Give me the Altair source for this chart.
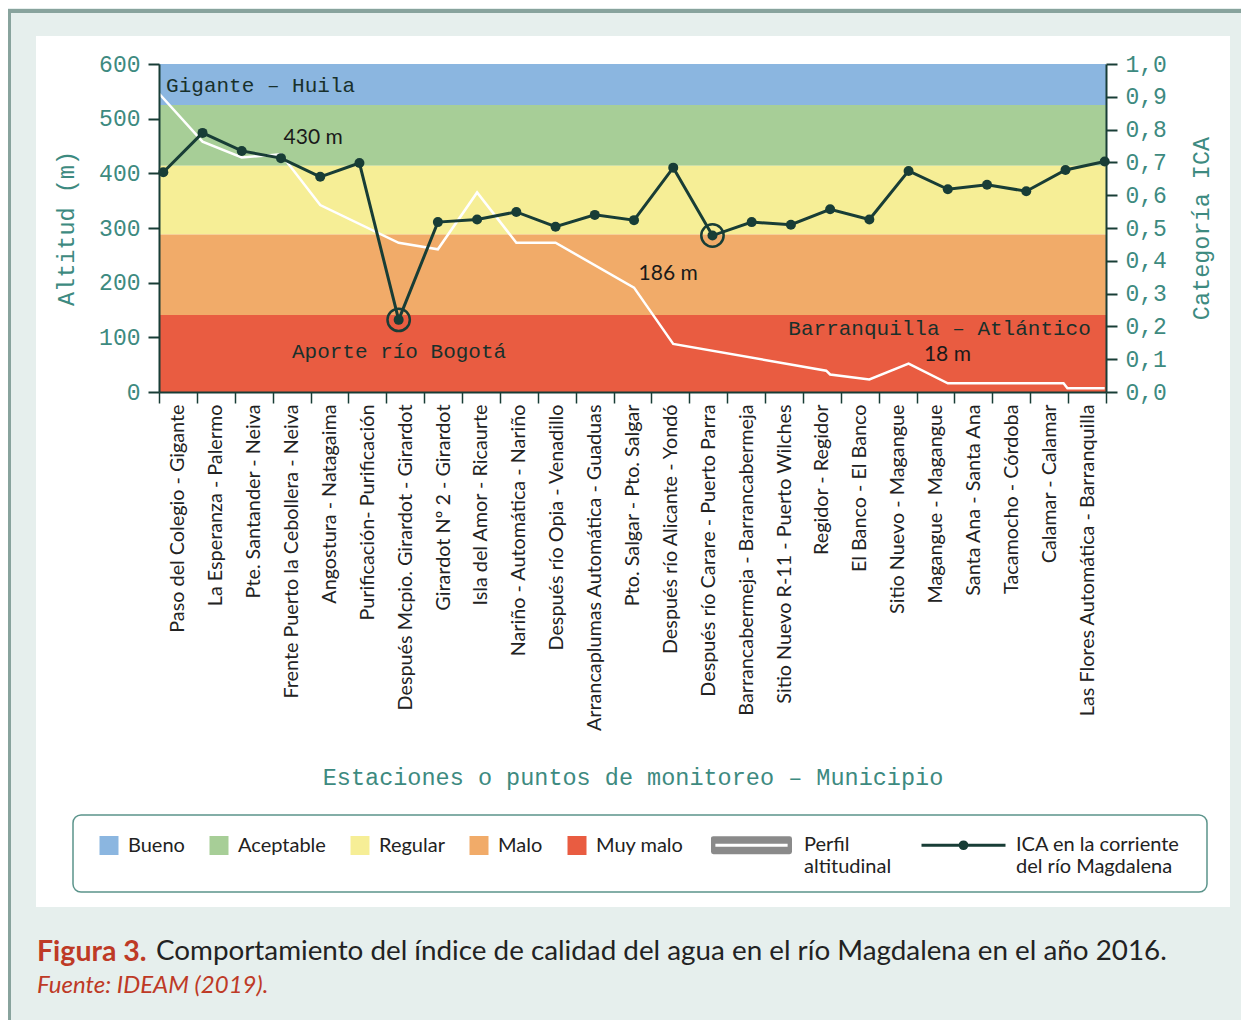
import altair as alt
import pandas as pd

# ---------------- data ----------------
estaciones = [
    "Paso del Colegio - Gigante",
    "La Esperanza - Palermo",
    "Pte. Santander - Neiva",
    "Frente Puerto la Cebollera - Neiva",
    "Angostura - Natagaima",
    "Purificación- Purificación",
    "Después Mcpio. Girardot - Girardot",
    "Girardot Nº 2 - Girardot",
    "Isla del Amor - Ricaurte",
    "Nariño - Automática - Nariño",
    "Después  río Opia - Venadillo",
    "Arrancaplumas Automática - Guaduas",
    "Pto. Salgar - Pto. Salgar",
    "Después río Alicante - Yondó",
    "Después río Carare - Puerto Parra",
    "Barrancabermeja - Barrancabermeja",
    "Sitio Nuevo R-11 - Puerto Wilches",
    "Regidor - Regidor",
    "El Banco - El Banco",
    "Sitio  Nuevo - Magangue",
    "Magangue - Magangue",
    "Santa Ana - Santa Ana",
    "Tacamocho - Córdoba",
    "Calamar - Calamar",
    "Las Flores Automática - Barranquilla",
]
ica = [0.67, 0.79, 0.735, 0.713, 0.656, 0.698, 0.22, 0.518, 0.526, 0.549,
       0.504, 0.54, 0.524, 0.684, 0.477, 0.518, 0.51, 0.557, 0.526, 0.674,
       0.618, 0.632, 0.612, 0.677, 0.703]

perfil_pos = [-0.11, 1, 2, 3, 4, 6, 7, 8, 9, 10, 12, 13, 16.9, 17.0, 18, 19, 20, 22.95, 23.05, 24]
perfil_alt = [546, 458, 429, 435, 342, 273, 261, 365, 273, 273, 191, 88, 39, 32, 23, 52, 16, 16, 7, 7]

categorias = ["Bueno", "Aceptable", "Regular", "Malo", "Muy malo"]
cat_hi = [1.0, 0.875, 0.69, 0.48, 0.235]
cat_lo = [0.875, 0.69, 0.48, 0.235, 0.0]
cat_colores = ["#8bb6e0", "#a7ce97", "#f6ee96", "#f1ab69", "#e95c41"]

destacados = [6, 14]

notas_mono = ["Gigante – Huila", "Aporte río Bogotá", "Barranquilla – Atlántico"]
notas_mono_pos = [2.48, 6.01, 19.79]
notas_mono_alt = [560, 73, 116]

notas_sans = ["430 m", "186 m", "18 m"]
notas_sans_pos = [3.82, 12.87, 19.99]
notas_sans_alt = [465, 216, 67]

series = ["Perfil altitudinal", "ICA en la corriente del río Magdalena"]

# ---------------- styles ----------------
SANS = "Lato"
MONO = "Liberation Mono"
TEAL = "#3d8a80"
DARK = "#183d36"
TXT = "#222222"
RED = "#be3a26"

W, H = 947, 328

xq = alt.Scale(domain=[-0.11, 24.033], nice=False, zero=False)
y_alt = alt.Scale(domain=[0, 600], nice=False, zero=False)
y_ica = alt.Scale(domain=[0, 1], nice=False, zero=False)

df_ica = pd.DataFrame({"pos": list(range(len(ica))), "estacion": estaciones, "ica": ica})
df_perfil = pd.DataFrame({"pos": perfil_pos, "alt": perfil_alt})
df_cat = pd.DataFrame({"categoria": categorias, "lo": cat_lo, "hi": cat_hi})
df_dest = df_ica[df_ica["pos"].isin(destacados)]
df_nm = pd.DataFrame({"texto": notas_mono, "pos": notas_mono_pos, "alt": notas_mono_alt})
df_ns = pd.DataFrame({"texto": notas_sans, "pos": notas_sans_pos, "alt": notas_sans_alt})
df_series = pd.DataFrame({"serie": series})
one = pd.DataFrame({"k": [1]})

# ---------------- decorations ----------------
frame = alt.Chart(one).mark_rect(fillOpacity=0, stroke="#88a39d", strokeWidth=4).encode(
    x=alt.value(-150), x2=alt.value(1300), y=alt.value(-53), y2=alt.value(1100))
panel = alt.Chart(one).mark_rect(fill="white").encode(
    x=alt.value(-123), x2=alt.value(1071), y=alt.value(-28), y2=alt.value(843))
legbox = alt.Chart(one).mark_rect(fill="white", stroke="#5b948b", strokeWidth=1.5, cornerRadius=8).encode(
    x=alt.value(-86), x2=alt.value(1048), y=alt.value(751), y2=alt.value(828))

# ---------------- bands (categories) ----------------
leg1 = alt.Legend(orient="none", legendX=-60, legendY=771.5, direction="horizontal", title=None,
                  symbolType="square", symbolSize=361, symbolStrokeWidth=0,
                  labelFont=SANS, labelFontSize=20, labelColor=TXT, labelOffset=9,
                  columnPadding=24, padding=0, zindex=1)
bands = alt.Chart(df_cat).mark_rect().encode(
    y=alt.Y("lo:Q", scale=y_ica, axis=None),
    y2="hi:Q",
    fill=alt.Fill("categoria:N", scale=alt.Scale(domain=categorias, range=cat_colores), legend=leg1),
)

# ---------------- station axis ----------------
axis_x = alt.Chart(df_ica).mark_rule(opacity=0).encode(
    x=alt.X("estacion:N", sort=estaciones,
            scale=alt.Scale(type="band", paddingInner=0, paddingOuter=0),
            axis=alt.Axis(orient="bottom", tickBand="extent", labelAngle=270,
                          labelFont=SANS, labelFontSize=19.8, labelColor=TXT, labelLimit=400,
                          labelPadding=1, tickSize=11, tickColor=DARK, tickWidth=1.5,
                          domainColor=DARK, domainWidth=2,
                          title="Estaciones o puntos de monitoreo – Municipio",
                          titleFont=MONO, titleFontSize=23.5, titleFontWeight="normal",
                          titleColor=TEAL, titleY=385, titleBaseline="middle", zindex=1)))

# ---------------- altitude profile ----------------
perfil = alt.Chart(df_perfil).mark_line(color="white", strokeWidth=2.5).encode(
    x=alt.X("pos:Q", scale=xq, axis=None),
    y=alt.Y("alt:Q", scale=y_alt,
            axis=alt.Axis(orient="left", values=[0, 100, 200, 300, 400, 500, 600],
                          labelFont=MONO, labelFontSize=23, labelColor=TEAL, labelPadding=8,
                          tickSize=11, tickColor=DARK, tickWidth=2, domainColor=DARK, domainWidth=2,
                          title="Altitud (m)", titleFont=MONO, titleFontSize=23.5,
                          titleFontWeight="normal", titleColor=TEAL, titleX=-93,
                          titleAngle=270, titleBaseline="middle", zindex=1)))

# ---------------- ICA series ----------------
linea = alt.Chart(df_ica).mark_line(color=DARK, strokeWidth=3).encode(
    x=alt.X("pos:Q", scale=xq, axis=None),
    y=alt.Y("ica:Q", scale=y_ica,
            axis=alt.Axis(orient="right", values=[0, 0.1, 0.2, 0.3, 0.4, 0.5, 0.6, 0.7, 0.8, 0.9, 1.0],
                          format=".1f", labelExpr="replace(datum.label, '.', ',')",
                          labelFont=MONO, labelFontSize=23, labelColor=TEAL, labelPadding=8,
                          tickSize=11, tickColor=DARK, tickWidth=2, domainColor=DARK, domainWidth=2,
                          title="Categoría ICA", titleFont=MONO, titleFontSize=23.5,
                          titleFontWeight="normal", titleColor=TEAL, titleX=95,
                          titleAngle=270, titleBaseline="middle", zindex=1)))
puntos = alt.Chart(df_ica).mark_circle(color=DARK, size=100, opacity=1).encode(
    x=alt.X("pos:Q", scale=xq, axis=None),
    y=alt.Y("ica:Q", scale=y_ica, axis=None))
aros = alt.Chart(df_dest).mark_point(shape="circle", size=500, filled=False, stroke=DARK,
                                     strokeWidth=2.5, opacity=1).encode(
    x=alt.X("pos:Q", scale=xq, axis=None),
    y=alt.Y("ica:Q", scale=y_ica, axis=None))

# ---------------- annotations ----------------
txt_mono = alt.Chart(df_nm).mark_text(font=MONO, fontSize=21, color="#18302b",
                                      align="center", baseline="middle").encode(
    x=alt.X("pos:Q", scale=xq, axis=None),
    y=alt.Y("alt:Q", scale=y_alt, axis=None),
    text="texto:N")
txt_sans = alt.Chart(df_ns).mark_text(font=SANS, fontSize=21, color="#1a1a1a",
                                      align="center", baseline="middle").encode(
    x=alt.X("pos:Q", scale=xq, axis=None),
    y=alt.Y("alt:Q", scale=y_alt, axis=None),
    text="texto:N")

# ---------------- legend for the two lines ----------------
path_perfil = ("M-0.905,-0.012 L0.905,-0.012 Q1,-0.012 1,0.083 L1,0.393 Q1,0.488 0.905,0.488 "
               "L-0.905,0.488 Q-1,0.488 -1,0.393 L-1,0.083 Q-1,-0.012 -0.905,-0.012 Z "
               "M-0.86,0.238 L0.86,0.238")
path_ica = ("M-1,0.238 L1,0.238 M-0.08,0.238 A0.08,0.08 0 1,1 0.08,0.238 "
            "A0.08,0.08 0 1,1 -0.08,0.238 Z")
leg2 = alt.Legend(orient="none", legendX=549, legendY=727.5, direction="horizontal", title=None,
                  symbolSize=7056, symbolStrokeWidth=3,
                  labelFont=SANS, labelFontSize=20, labelColor=TXT, labelOffset=9,
                  labelBaseline="top", columnPadding=23, padding=0, labelLimit=300,
                  labelExpr="datum.label == 'Perfil altitudinal' ? ['Perfil', 'altitudinal'] : ['ICA en la corriente', 'del río Magdalena']",
                  zindex=1)
serie_leg = alt.Chart(df_series).mark_point(filled=True, size=7056, strokeWidth=3, opacity=1).encode(
    fill=alt.Fill("serie:N", scale=alt.Scale(domain=series, range=["#8a8a8a", DARK]), legend=leg2),
    stroke=alt.Stroke("serie:N", scale=alt.Scale(domain=series, range=["white", DARK]), legend=leg2),
    shape=alt.Shape("serie:N", scale=alt.Scale(domain=series, range=[path_perfil, path_ica]), legend=leg2),
).transform_filter("false")

# ---------------- caption ----------------
cap1 = alt.Chart(one).mark_text(text="Figura 3.", font=SANS, fontSize=28.5, fontWeight="bold",
                                color=RED, align="left", baseline="middle").encode(
    x=alt.value(-122), y=alt.value(888))
cap2 = alt.Chart(one).mark_text(
    text="Comportamiento del índice de calidad del agua en el río Magdalena en el año 2016.",
    font=SANS, fontSize=27.8, color=TXT, align="left", baseline="middle").encode(
    x=alt.value(-3), y=alt.value(888))
cap3 = alt.Chart(one).mark_text(text="Fuente: IDEAM (2019).", font=SANS, fontSize=24,
                                fontStyle="italic", color=RED, align="left", baseline="middle").encode(
    x=alt.value(-122), y=alt.value(922))

chart = alt.layer(
    frame, panel, legbox, bands, axis_x, perfil, linea, puntos, aros,
    txt_mono, txt_sans, serie_leg, cap1, cap2, cap3,
).resolve_scale(
    x="independent", y="independent", fill="independent", stroke="independent", shape="independent"
).properties(
    width=W, height=H,
    padding={"left": 151, "top": 56, "right": 135, "bottom": 628},
    autosize=alt.AutoSizeParams(type="none"),
    background="#e6efed",
).configure_view(strokeWidth=0)

chart.save("out.html", embed_options={"renderer": "svg", "actions": False})
